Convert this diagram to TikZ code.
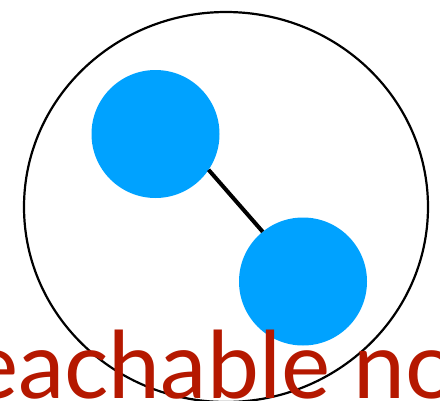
\documentclass[tikz,border=0pt]{standalone}
\usepackage{fontspec}
\setmainfont{Lato}
\usetikzlibrary{shapes.geometric}
\definecolor{nodeblue}{RGB}{0,162,255}
\definecolor{labelred}{RGB}{181,24,0}
\begin{document}
\begin{tikzpicture}[x=1pt,y=-1pt,
  vert/.style={circle,fill=nodeblue,minimum size=128pt,inner sep=0pt,outer sep=0pt},
  outerring/.style={draw,line width=2.2pt,ellipse,minimum width=404pt,minimum height=390pt,inner sep=0pt,outer sep=0pt},
  link/.style={line width=4pt},
  caption/.style={anchor=base west,inner sep=0pt,text=labelred,font=\fontsize{93}{93}\selectfont}]
\useasboundingbox (0,0) rectangle (440,400);
\clip (0,0) rectangle (440,400);
\node[outerring] (outer) at (226,207) {};
\node[vert] (a) at (155.5,134) {};
\node[vert] (b) at (303,281.5) {};
\draw[link] (a.-34) -- (b.129);
\node[caption] (label) at (-63,398) {reachable node};
\end{tikzpicture}
\end{document}
